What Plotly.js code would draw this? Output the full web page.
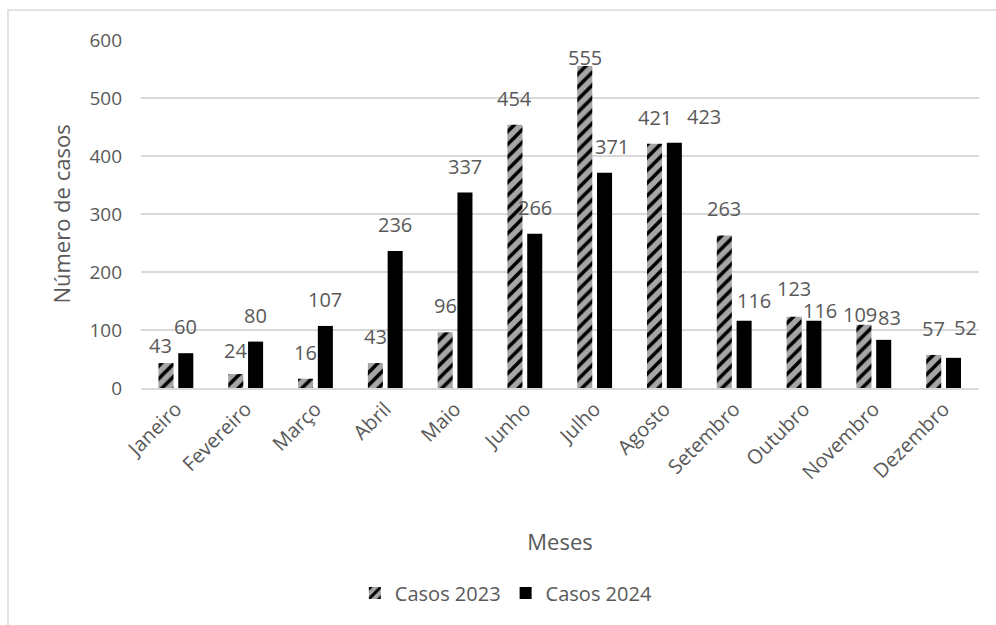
<!DOCTYPE html>
<html>
<head>
<meta charset="utf-8">
<script src="https://cdn.plot.ly/plotly-3.0.1.min.js"></script>
<style>
  html, body { margin: 0; padding: 0; background: #ffffff; }
  #chart { width: 996px; height: 625px; }
</style>
</head>
<body>
<div id="chart"></div>
<script>
// Monthly case counts
const months = ['Janeiro', 'Fevereiro', 'Março', 'Abril', 'Maio', 'Junho',
                'Julho', 'Agosto', 'Setembro', 'Outubro', 'Novembro', 'Dezembro'];
const casos2023 = [43, 24, 16, 43, 96, 454, 555, 421, 263, 123, 109, 57];
const casos2024 = [60, 80, 107, 236, 337, 266, 371, 423, 116, 116, 83, 52];
const yTicks = [0, 100, 200, 300, 400, 500, 600];

// Pixel nudges for value labels that would otherwise collide
const nudge2023X = [-6, 0, 0, 0, 0, 0, 0, 0, 0, 0, -4, 0];
const nudge2023Y = [-9, -3, 0, 0, 0, 0, -18, 0, 0, 2, -16, 0];
const nudge2024X = [0, 0, 0, 0, 0, 0, 7, 30, 10, 6, 6, 12];
const nudge2024Y = [0, 0, 0, 0, 0, 0, 0, 0, -6, -16, -4, 4];

const FONT = '"Open Sans", "Noto Sans", sans-serif';
const TEXT = '#595959';
const GRID = '#d9d9d9';

const BAR_OFFSET = 9.9;   // half of one bar slot, px
const LABEL_LIFT = 11;    // gap between bar top and its value label, px

const traces = [
  {
    type: 'bar',
    name: 'Casos 2023',
    x: months,
    y: casos2023,
    marker: {
      color: '#a6a6a6',
      line: { width: 0 },
      pattern: { shape: '/', fgcolor: '#000000', bgcolor: '#a6a6a6', size: 9, solidity: 0.4 }
    },
    hoverinfo: 'x+y'
  },
  {
    type: 'bar',
    name: 'Casos 2024',
    x: months,
    y: casos2024,
    marker: { color: '#000000', line: { width: 0 } },
    hoverinfo: 'x+y'
  }
];

const annotations = [];
months.forEach((m, i) => {
  annotations.push({
    x: m, y: casos2023[i], xref: 'x', yref: 'y',
    text: String(casos2023[i]), showarrow: false,
    xanchor: 'center', yanchor: 'bottom',
    xshift: -BAR_OFFSET + nudge2023X[i], yshift: LABEL_LIFT + nudge2023Y[i],
    font: { family: FONT, size: 20, color: TEXT }
  });
  annotations.push({
    x: m, y: casos2024[i], xref: 'x', yref: 'y',
    text: String(casos2024[i]), showarrow: false,
    xanchor: 'center', yanchor: 'bottom',
    xshift: BAR_OFFSET + nudge2024X[i], yshift: LABEL_LIFT + nudge2024Y[i],
    font: { family: FONT, size: 20, color: TEXT }
  });
});

const layout = {
  width: 996,
  height: 625,
  margin: { l: 141, r: 17, t: 40, b: 237 },
  paper_bgcolor: '#ffffff',
  plot_bgcolor: '#ffffff',
  font: { family: FONT, color: TEXT },
  barmode: 'group',
  bargap: 0.433,
  bargroupgap: 0.24,
  showlegend: true,
  legend: {
    orientation: 'h',
    x: 0.436, xanchor: 'center',
    y: -0.589, yanchor: 'middle',
    font: { family: FONT, size: 20, color: TEXT },
    itemwidth: 30,
    bgcolor: 'rgba(0,0,0,0)'
  },
  xaxis: {
    type: 'category',
    tickangle: -45,
    tickfont: { family: FONT, size: 20, color: TEXT },
    showgrid: false,
    showline: true,
    linecolor: GRID,
    linewidth: 1.5,
    ticks: '',
    title: { text: 'Meses', font: { family: FONT, size: 22, color: TEXT }, standoff: 50 },
    automargin: false,
    fixedrange: true
  },
  yaxis: {
    range: [0, 600],
    tickvals: yTicks,
    ticktext: yTicks.map(String),
    tickfont: { family: FONT, size: 19, color: TEXT },
    ticklabelstandoff: 18,
    showgrid: true,
    gridcolor: GRID,
    gridwidth: 1.5,
    zeroline: false,
    showline: false,
    ticks: '',
    title: { text: 'Número de casos', font: { family: FONT, size: 22, color: TEXT }, standoff: 12 },
    automargin: false,
    fixedrange: true
  },
  annotations: annotations,
  shapes: [
    {
      // chart-area frame
      type: 'rect', xref: 'paper', yref: 'paper',
      x0: -0.1587, x1: 1.2, y0: -0.9, y1: 1.086,
      line: { color: GRID, width: 1.5 },
      fillcolor: 'rgba(0,0,0,0)',
      layer: 'below'
    }
  ]
};

Plotly.newPlot('chart', traces, layout, { displayModeBar: false, staticPlot: true });
</script>
</body>
</html>
